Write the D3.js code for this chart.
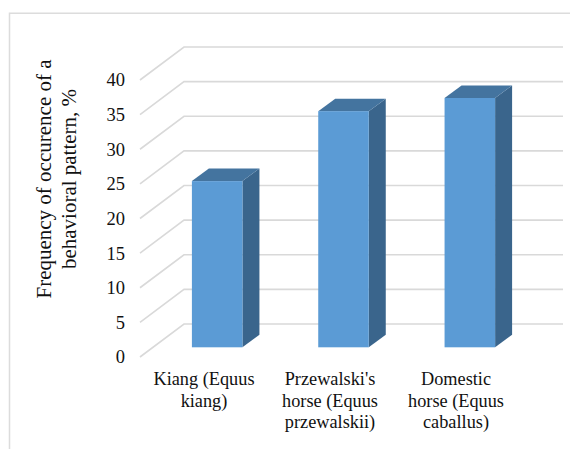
<!DOCTYPE html>
<html><head><meta charset="utf-8">
<script src="https://cdn.jsdelivr.net/npm/d3@7"></script>
<style>html,body{margin:0;padding:0;background:#fff}svg{display:block}text{font-family:"Liberation Serif",serif;fill:#111}</style>
</head><body><svg id="c" width="570" height="449"></svg>
<script>
const categories = ["Kiang (Equus kiang)", "Przewalski's horse (Equus przewalskii)", "Domestic horse (Equus caballus)"];
const categoryLines = [["Kiang (Equus","kiang)"],["Przewalski's","horse (Equus","przewalskii)"],["Domestic","horse (Equus","caballus)"]];
const values = [24, 34.1, 36];
const tickValues = [0,5,10,15,20,25,30,35,40];
const axisTitle = ["Frequency of occurence of a","behavioral pattern, %"];

const svg = d3.select("#c");
// frame
svg.append("path").attr("d","M9.5,449V13.2H570").attr("fill","none").attr("stroke","#dcdcdc").attr("stroke-width",1.5);

const y = d3.scaleLinear().domain([0,40]).range([357,80]);      // front edge of the left wall
const yBar = d3.scaleLinear().domain([0,40]).range([347.3,70.3]); // front of the bars
const x = d3.scaleBand().domain(categories).range([154,533]).paddingInner(0.6).paddingOuter(0.3);
const xLabel = d3.scalePoint().domain(categories).range([204,456]);
const wall = {left:140, back:184, right:563, dy:33};
const depth = {dx:17, dy:12.5};

// gridlines
const grid = svg.append("g").attr("fill","none").attr("stroke","#d9d9d9").attr("stroke-width",1.6);
tickValues.forEach(v=>{
  grid.append("path").attr("d",`M${wall.left},${y(v)}L${wall.back},${y(v)-wall.dy}H${wall.right}`);
});

// value axis labels
const axis = d3.axisLeft(y).tickValues(tickValues).tickSize(0).tickPadding(0);
const ag = svg.append("g").attr("transform","translate(125,0)").call(axis);
ag.select(".domain").remove();
ag.selectAll("text").attr("font-size",18.5).style("font-family",'"Liberation Serif",serif').attr("fill","#111");

// bars
const bars = svg.append("g").selectAll("g").data(categories).join("g");
bars.each(function(c,i){
  const g = d3.select(this), x0=x(c), w=x.bandwidth(), top=yBar(values[i]), bot=yBar(0);
  g.append("path").attr("fill","#3a658c").attr("d",`M${x0+w},${top}l${depth.dx},${-depth.dy}V${bot-depth.dy}L${x0+w},${bot}Z`);
  g.append("path").attr("fill","#44749f").attr("d",`M${x0},${top}l${depth.dx},${-depth.dy}h${w}l${-depth.dx},${depth.dy}Z`);
  g.append("rect").attr("x",x0).attr("y",top).attr("width",w).attr("height",bot-top).attr("fill","#5b9bd5");
});

// category labels
const cl = svg.append("g").attr("text-anchor","middle").attr("font-size",18.3);
categories.forEach((c,i)=>{
  categoryLines[i].forEach((t,j)=>cl.append("text").attr("x",xLabel(c)).attr("y",385+j*21.6).text(t));
});

// axis title
const tg = svg.append("g").attr("transform","translate(0,179) rotate(-90)").attr("text-anchor","middle").attr("font-size",21);
axisTitle.forEach((t,j)=>tg.append("text").attr("x",0).attr("y",51+j*25).text(t));
</script></body></html>
